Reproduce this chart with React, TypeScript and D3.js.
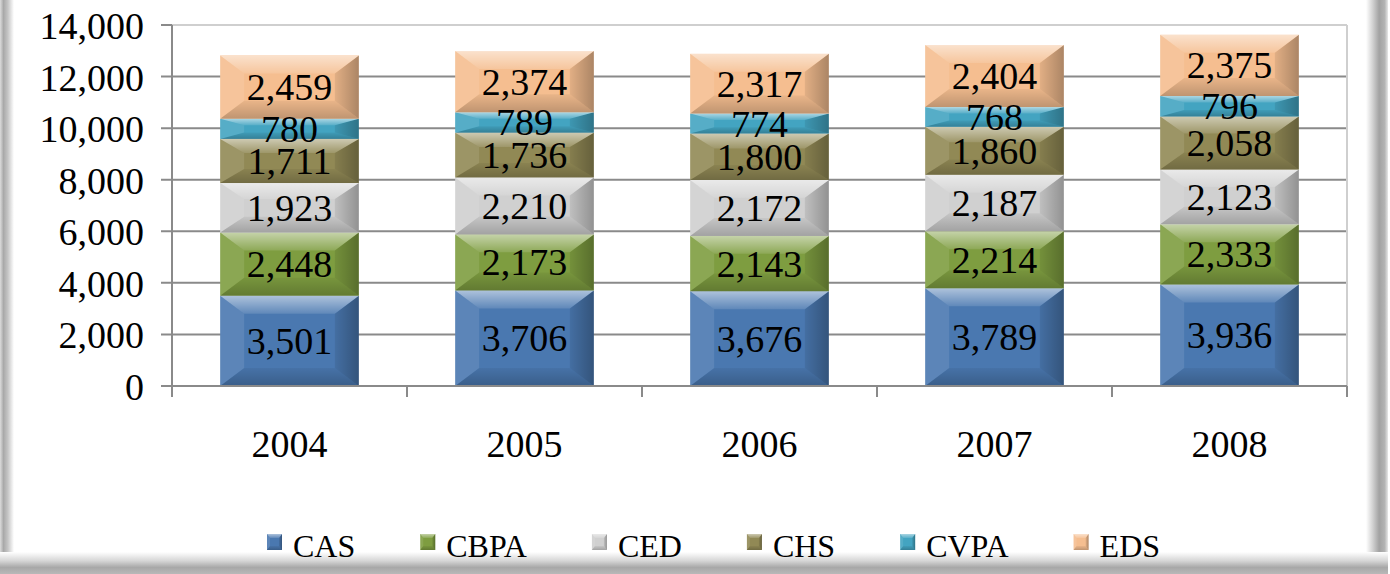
import React, { useEffect, useRef } from 'react';
import * as d3 from 'd3';

const categories = ['2004', '2005', '2006', '2007', '2008'];
const seriesNames = ['CAS', 'CBPA', 'CED', 'CHS', 'CVPA', 'EDS'];
const CAS = [3501, 3706, 3676, 3789, 3936];
const CBPA = [2448, 2173, 2143, 2214, 2333];
const CED = [1923, 2210, 2172, 2187, 2123];
const CHS = [1711, 1736, 1800, 1860, 2058];
const CVPA = [780, 789, 774, 768, 796];
const EDS = [2459, 2374, 2317, 2404, 2375];
const yTicks = [0, 2000, 4000, 6000, 8000, 10000, 12000, 14000];
const seriesColors = ['#4a78b0', '#7e9d40', '#d0d0d0', '#918955', '#43a4c1', '#f5be90'];

const W = 1390;
const H = 574;
const FONT = '"Liberation Serif", "Times New Roman", serif';

export default function App() {
  const ref = useRef<SVGSVGElement | null>(null);

  useEffect(() => {
    const svg = d3.select(ref.current);
    svg.selectAll('*').remove();

    const values = [CAS, CBPA, CED, CHS, CVPA, EDS];
    const rows = categories.map((c, i) => {
      const r: any = { cat: c };
      seriesNames.forEach((s, k) => (r[s] = values[k][i]));
      return r;
    });
    const stacked = d3.stack().keys(seriesNames)(rows);

    const left = 172, right = 1347, top = 25, bottom = 386;
    const y = d3.scaleLinear().domain([0, 14000]).range([bottom, top]);
    const x = d3.scaleBand().domain(categories).range([left, right]).paddingInner(0.41).paddingOuter(0.205);

    const defs = svg.append('defs');
    const topGrad = defs.append('linearGradient').attr('id', 'topg').attr('x1', 0).attr('y1', 0).attr('x2', 0).attr('y2', 1);
    topGrad.append('stop').attr('offset', 0).attr('stop-color', '#fff').attr('stop-opacity', 0.55);
    topGrad.append('stop').attr('offset', 1).attr('stop-color', '#fff').attr('stop-opacity', 0.12);
    const botGrad = defs.append('linearGradient').attr('id', 'botg').attr('x1', 0).attr('y1', 0).attr('x2', 0).attr('y2', 1);
    botGrad.append('stop').attr('offset', 0).attr('stop-color', '#000').attr('stop-opacity', 0.05);
    botGrad.append('stop').attr('offset', 1).attr('stop-color', '#000').attr('stop-opacity', 0.22);
    const rightGrad = defs.append('linearGradient').attr('id', 'rightg').attr('x1', 0).attr('y1', 0).attr('x2', 1).attr('y2', 0);
    rightGrad.append('stop').attr('offset', 0).attr('stop-color', '#000').attr('stop-opacity', 0.08);
    rightGrad.append('stop').attr('offset', 1).attr('stop-color', '#000').attr('stop-opacity', 0.3);

    // frame gradients
    const lg = defs.append('linearGradient').attr('id', 'frameL').attr('x1', 0).attr('y1', 0).attr('x2', 1).attr('y2', 0);
    [[0, '#dcdcdc'], [0.25, '#a9a9a9'], [0.55, '#c4c4c4'], [1, '#ffffff']].forEach(([o, c]) =>
      lg.append('stop').attr('offset', o as number).attr('stop-color', c as string));
    const rg = defs.append('linearGradient').attr('id', 'frameR').attr('x1', 0).attr('y1', 0).attr('x2', 1).attr('y2', 0);
    [[0, '#ffffff'], [0.3, '#d2d2d2'], [0.6, '#a2a2a2'], [0.85, '#b4b4b4'], [1, '#e8e8e8']].forEach(([o, c]) =>
      rg.append('stop').attr('offset', o as number).attr('stop-color', c as string));
    const bg = defs.append('linearGradient').attr('id', 'frameB').attr('x1', 0).attr('y1', 0).attr('x2', 0).attr('y2', 1);
    [[0, '#ffffff'], [0.4, '#d6d6d6'], [0.7, '#a8a8a8'], [1, '#b8b8b8']].forEach(([o, c]) =>
      bg.append('stop').attr('offset', o as number).attr('stop-color', c as string));

    svg.append('rect').attr('x', 0).attr('y', 0).attr('width', W).attr('height', H).attr('fill', '#fff');
    svg.append('rect').attr('x', 0).attr('y', 0).attr('width', 14).attr('height', H).attr('fill', 'url(#frameL)');
    svg.append('rect').attr('x', 1366).attr('y', 0).attr('width', 22).attr('height', H).attr('fill', 'url(#frameR)');
    svg.append('rect').attr('x', 0).attr('y', 552).attr('width', 1388).attr('height', 22).attr('fill', 'url(#frameB)');

    // gridlines
    svg.append('g').selectAll('line').data(yTicks).join('line')
      .attr('x1', left - 11).attr('x2', right)
      .attr('y1', (d) => y(d)).attr('y2', (d) => y(d))
      .attr('stroke', (d) => (d === 14000 ? '#cfcfcf' : '#8a8a8a'))
      .attr('stroke-width', 2);
    svg.append('line').attr('x1', left - 11).attr('x2', left).attr('y1', y(14000)).attr('y2', y(14000))
      .attr('stroke', '#8a8a8a').attr('stroke-width', 2);
    svg.append('line').attr('x1', right).attr('x2', right).attr('y1', top).attr('y2', bottom)
      .attr('stroke', '#cfcfcf').attr('stroke-width', 2);

    // y tick labels
    svg.append('g').selectAll('text').data(yTicks).join('text')
      .attr('x', 144).attr('y', (d) => y(d) + 14)
      .attr('text-anchor', 'end')
      .attr('font-family', FONT).attr('font-size', 38).attr('fill', '#000')
      .text((d) => d3.format(',')(d));

    // bars
    const bevel = (g: any, x0: number, y0: number, w: number, h: number, color: string, bxMax: number, byMax: number) => {
      const x1 = x0 + w, y1 = y0 + h;
      const bx = Math.min(bxMax, w * 0.2);
      const by = Math.min(byMax, h * 0.32);
      g.append('rect').attr('x', x0).attr('y', y0).attr('width', w).attr('height', h).attr('fill', color);
      const poly = (pts: number[][], fill: string) =>
        g.append('polygon').attr('points', pts.map((p) => p.join(',')).join(' ')).attr('fill', fill);
      poly([[x0, y0], [x0 + bx, y0 + by], [x0 + bx, y1 - by], [x0, y1]], 'rgba(255,255,255,0.1)');
      poly([[x1, y0], [x1 - bx, y0 + by], [x1 - bx, y1 - by], [x1, y1]], 'url(#rightg)');
      poly([[x0, y1], [x1, y1], [x1 - bx, y1 - by], [x0 + bx, y1 - by]], 'url(#botg)');
      poly([[x0, y0], [x1, y0], [x1 - bx, y0 + by], [x0 + bx, y0 + by]], 'url(#topg)');
    };

    const barG = svg.append('g');
    stacked.forEach((layer, k) => {
      layer.forEach((seg: any, i: number) => {
        const x0 = x(categories[i]) as number;
        const yTop = y(seg[1]);
        const yBot = y(seg[0]);
        bevel(barG, x0, yTop, x.bandwidth(), yBot - yTop, seriesColors[k], 24, 18);
      });
    });

    // axis lines
    svg.append('line').attr('x1', left).attr('x2', left).attr('y1', top).attr('y2', bottom + 11)
      .attr('stroke', '#8a8a8a').attr('stroke-width', 2);
    svg.append('line').attr('x1', left).attr('x2', right).attr('y1', bottom).attr('y2', bottom)
      .attr('stroke', '#8a8a8a').attr('stroke-width', 2);
    const boundaries = categories.map((c) => x(c) as number - (x.step() - x.bandwidth()) / 2).concat([right]);
    svg.append('g').selectAll('line').data(boundaries).join('line')
      .attr('x1', (d) => d).attr('x2', (d) => d).attr('y1', bottom).attr('y2', bottom + 11)
      .attr('stroke', '#8a8a8a').attr('stroke-width', 2);

    // data labels
    const lblG = svg.append('g');
    stacked.forEach((layer) => {
      layer.forEach((seg: any, i: number) => {
        const cx = (x(categories[i]) as number) + x.bandwidth() / 2;
        const cy = (y(seg[0]) + y(seg[1])) / 2;
        lblG.append('text').attr('x', cx).attr('y', cy + 13)
          .attr('text-anchor', 'middle').attr('font-family', FONT).attr('font-size', 38).attr('fill', '#000')
          .text(d3.format(',')(seg[1] - seg[0]));
      });
    });

    // x labels
    svg.append('g').selectAll('text').data(categories).join('text')
      .attr('x', (d) => (x(d) as number) + x.bandwidth() / 2).attr('y', 457)
      .attr('text-anchor', 'middle').attr('font-family', FONT).attr('font-size', 38).attr('fill', '#000')
      .text((d) => d);

    // legend
    const legG = svg.append('g');
    let cursor = 267;
    seriesNames.forEach((s, k) => {
      const item = legG.append('g');
      bevel(item, cursor, 534, 15, 16, seriesColors[k], 4, 4);
      const t = item.append('text').attr('x', cursor + 26).attr('y', 557)
        .attr('font-family', FONT).attr('font-size', 32).attr('fill', '#000').text(s);
      const tw = (t.node() as SVGTextElement).getComputedTextLength();
      cursor = cursor + 26 + tw + 65;
    });
  }, []);

  return (
    <svg ref={ref} width={W} height={H} style={{ position: 'absolute', left: 0, top: 0, display: 'block' }} />
  );
}
